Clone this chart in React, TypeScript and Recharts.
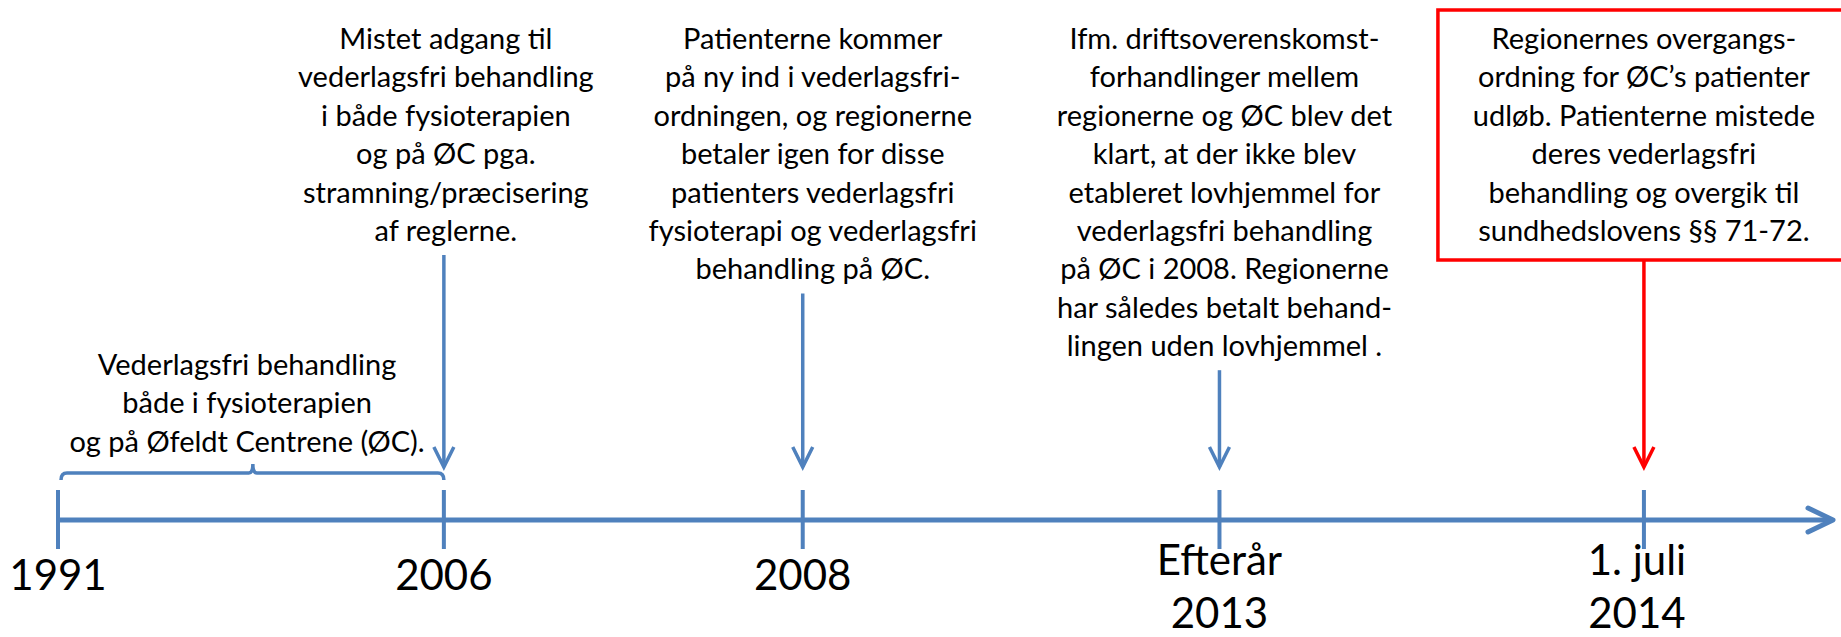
// Timeline: vederlagsfri behandling 1991–2014

import React from 'react';
import {
  ComposedChart,
  Scatter,
  XAxis,
  YAxis,
  ReferenceLine,
  ReferenceArea
} from 'recharts';

const BLUE = '#4F81BD';
const RED = '#FF0000';
const FONT = 'Lato, "Open Sans", sans-serif';

// position of each event along the line (1991 = 0, 2006 = 1)
const eventPositions = [0, 1, 1.93, 3.01, 4.11];
const axisEnd = 4.6;

const dateLabels = [
  ['1991'],
  ['2006'],
  ['2008'],
  ['Efterår', '2013'],
  ['1. juli', '2014']
];

const notes = [
  [],
  ['Mistet adgang til', 'vederlagsfri behandling', 'i både fysioterapien', 'og på ØC pga.', 'stramning/præcisering', 'af reglerne.'],
  ['Patienterne kommer', 'på ny ind i vederlagsfri-', 'ordningen, og regionerne', 'betaler igen for disse', 'patienters vederlagsfri', 'fysioterapi og vederlagsfri', 'behandling på ØC.'],
  ['Ifm. driftsoverenskomst-', 'forhandlinger mellem', 'regionerne og ØC blev det', 'klart, at der ikke blev', 'etableret lovhjemmel for', 'vederlagsfri behandling', 'på ØC i 2008. Regionerne', 'har således betalt behand-', 'lingen uden lovhjemmel .'],
  ['Regionernes overgangs-', 'ordning for ØC’s patienter', 'udløb. Patienterne mistede', 'deres vederlagsfri', 'behandling og overgik til', 'sundhedslovens §§ 71-72.']
];

const highlighted = [false, false, false, false, true];

// the bracketed period 1991–2006
const periodStart = 0;
const periodEnd = 1;
const periodNote = ['Vederlagsfri behandling', 'både i fysioterapien', 'og på Øfeldt Centrene (ØC).'];

const events = eventPositions.map((pos, i) => ({
  pos,
  y: 0,
  date: dateLabels[i],
  note: notes[i],
  highlight: highlighted[i],
  idx: i
}));

const noteNudge = [0, 2, 10, 5, 0];
const dateNudge = [0, 0, 0, 0, -7];
const LINE = 38.4;
const NOTE_SIZE = 29;

const EventMark = (props: any) => {
  const { cx, cy, payload } = props;
  const color = payload.highlight ? RED : BLUE;
  const lines: string[] = payload.note;
  const nx = cx + noteNudge[payload.idx];
  const firstBase = cy - 471;
  const lastBase = firstBase + (lines.length - 1) * LINE;
  const tip = cy - 53;
  const arrowTop = payload.highlight ? lastBase + 19 : lastBase + 14;
  const dateBases = payload.date.length > 1 ? [cy + 55, cy + 108] : [cy + 70];

  return (
    <g>
      <line x1={cx} x2={cx} y1={cy - 30} y2={cy + 29} stroke={BLUE} strokeWidth={4} />
      {payload.date.map((d: string, k: number) => (
        <text
          key={k}
          x={cx + dateNudge[payload.idx]}
          y={dateBases[k]}
          textAnchor="middle"
          fontFamily={FONT}
          fontSize={42}
          fill="#000"
        >
          {d}
        </text>
      ))}
      {lines.length > 0 && (
        <>
          {payload.highlight && (
            <rect
              x={cx - 206}
              y={firstBase - 39}
              width={412}
              height={lastBase + 19 - (firstBase - 39)}
              fill="none"
              stroke={RED}
              strokeWidth={3.5}
            />
          )}
          {lines.map((t, k) => (
            <text key={k} x={nx} y={firstBase + k * LINE} textAnchor="middle" fontFamily={FONT} fontSize={NOTE_SIZE} fill="#000">
              {t}
            </text>
          ))}
          <line x1={cx} x2={cx} y1={arrowTop} y2={tip} stroke={color} strokeWidth={3.5} />
          <path
            d={`M${cx - 10},${tip - 20} L${cx},${tip} L${cx + 10},${tip - 20}`}
            fill="none"
            stroke={color}
            strokeWidth={3.5}
          />
        </>
      )}
    </g>
  );
};

const ArrowHead = (props: any) => {
  const { cx, cy } = props;
  return (
    <path
      d={`M${cx - 25},${cy - 12} L${cx},${cy} L${cx - 25},${cy + 12}`}
      fill="none"
      stroke={BLUE}
      strokeWidth={5}
      strokeLinecap="round"
      strokeLinejoin="round"
    />
  );
};

const Bracket = (props: any) => {
  const { x, y, width, height } = props;
  const x0 = x;
  const x1 = x + width;
  const mid = x + width * 0.505;
  const ly = y + 9;
  const bottom = y + height;
  return (
    <g>
      <path
        d={`M${x0 + 3},${bottom} Q${x0 + 3},${ly} ${x0 + 9},${ly} L${mid - 4},${ly} Q${mid},${ly} ${mid},${y} Q${mid},${ly} ${mid + 4},${ly} L${x1 - 6},${ly} Q${x1},${ly} ${x1},${bottom}`}
        fill="none"
        stroke={BLUE}
        strokeWidth={3.5}
      />
      {periodNote.map((t, k) => (
        <text key={k} x={x + width * 0.49} y={ly - 98 + k * LINE} textAnchor="middle" fontFamily={FONT} fontSize={NOTE_SIZE} fill="#000">
          {t}
        </text>
      ))}
    </g>
  );
};

export default function App() {
  return (
    <div style={{ position: 'absolute', left: 0, top: 0, background: '#fff' }}>
      <ComposedChart width={1841} height={637} margin={{ top: 0, right: 8, bottom: 0, left: 58 }}>
        <XAxis type="number" dataKey="pos" domain={[0, axisEnd]} hide />
        <YAxis type="number" dataKey="y" domain={[-117, 520]} hide />
        <ReferenceLine
          segment={[{ x: 0, y: 0 }, { x: axisEnd - 0.004, y: 0 }]}
          stroke={BLUE}
          strokeWidth={5}
          ifOverflow="visible"
        />
        <ReferenceArea
          x1={periodStart}
          x2={periodEnd}
          y1={40}
          y2={56}
          ifOverflow="visible"
          shape={<Bracket />}
        />
        <Scatter data={events} dataKey="y" shape={<EventMark />} isAnimationActive={false} />
        <Scatter data={[{ pos: axisEnd, y: 0 }]} dataKey="y" shape={<ArrowHead />} isAnimationActive={false} />
      </ComposedChart>
    </div>
  );
}
